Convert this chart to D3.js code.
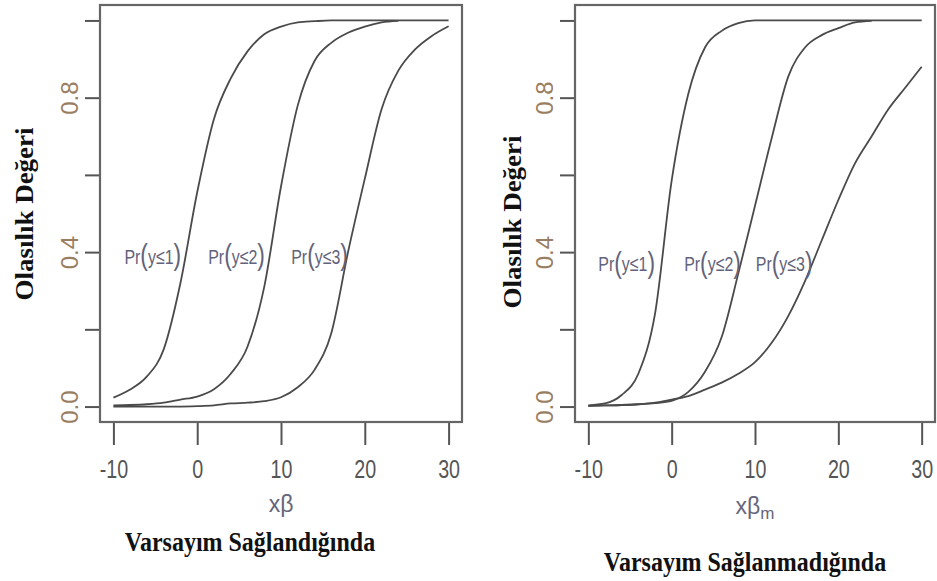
<!DOCTYPE html>
<html>
<head>
<meta charset="utf-8">
<script src="https://cdn.jsdelivr.net/npm/d3@7/dist/d3.min.js"></script>
<style>
    body { margin: 0; background: #fff; }
</style>
</head>
<body>
<div id="chart"></div>
<script>
// x values the curves were read at
var xGrid = [-10, -8, -6, -4, -2, 0, 2, 4, 6, 8, 10, 12, 14, 16, 18, 20, 22, 24, 26, 28, 30];

// left panel: assumption met
var metPr1 = [0.023, 0.044, 0.078, 0.148, 0.32, 0.555, 0.745, 0.85, 0.92, 0.964, 0.984, 0.995, 0.998, 1, 1, 1, 1, 1, 1, 1, 1];
var metPr2 = [0.003, 0.004, 0.006, 0.010, 0.018, 0.026, 0.045, 0.085, 0.155, 0.31, 0.57, 0.78, 0.895, 0.942, 0.968, 0.984, 0.995, 0.999];
var metPr3 = [0, 0, 0, 0, 0, 0.001, 0.003, 0.008, 0.010, 0.014, 0.024, 0.05, 0.095, 0.19, 0.40, 0.59, 0.77, 0.87, 0.925, 0.96, 0.985];

// right panel: assumption not met
var notPr1 = [0.003, 0.008, 0.03, 0.085, 0.24, 0.585, 0.81, 0.93, 0.973, 0.993, 1, 1, 1, 1, 1, 1, 1, 1, 1, 1, 1];
var notPr2 = [0.002, 0.003, 0.004, 0.006, 0.009, 0.015, 0.038, 0.09, 0.18, 0.345, 0.52, 0.695, 0.855, 0.93, 0.962, 0.98, 0.995, 0.999];
var notPr3 = [0.002, 0.003, 0.004, 0.006, 0.010, 0.018, 0.027, 0.044, 0.062, 0.085, 0.115, 0.165, 0.235, 0.325, 0.43, 0.535, 0.63, 0.70, 0.77, 0.825, 0.88];

var xTicks = [-10, 0, 10, 20, 30];
var yTicks = [0, 0.2, 0.4, 0.6, 0.8, 1.0];
var yLabelled = [0, 0.4, 0.8];
var curveNames = ["1", "2", "3"];
var yTitle = "Olasılık Değeri";

var w = 937;
var h = 581;

var svg = d3.select("#chart")
    .append("svg")
    .attr("width", w)
    .attr("height", h);

function toPoints(vals) {
    return vals.map(function (v, i) { return [xGrid[i], v]; });
}

var panels = [
    { x0: 100, x1: 462, y0: 5, y1: 422, series: [metPr1, metPr2, metPr3],
      labelX: [-5.3, 4.7, 14.6], labelY: 0.39, sub: "", title: "Varsayım Sağlandığında",
      titleX: 250, titleY: 542, yTitleX: 24, yTitleY: 214, xLabY: 505 },
    { x0: 575, x1: 935, y0: 5, y1: 422, series: [notPr1, notPr2, notPr3],
      labelX: [-5.4, 4.9, 13.5], labelY: 0.37, sub: "m", title: "Varsayım Sağlanmadığında",
      titleX: 745, titleY: 562, yTitleX: 512, yTitleY: 222, xLabY: 507 }
];

panels.forEach(function (p) {
    var x = d3.scaleLinear().domain([-11.6, 31.6]).range([p.x0, p.x1]);
    var y = d3.scaleLinear().domain([-0.04, 1.04]).range([p.y1, p.y0]);
    var g = svg.append("g");

    // x axis
    var xAxis = g.append("g")
        .attr("transform", "translate(0," + p.y1 + ")")
        .call(d3.axisBottom(x).tickValues(xTicks).tickSize(23)
            .tickFormat(function (d) { return String(d); }));
    xAxis.select(".domain").remove();
    xAxis.selectAll("line").attr("stroke", "#555").attr("stroke-width", 2);
    xAxis.selectAll("text")
        .attr("y", 43)
        .attr("dy", "0.36em")
        .attr("transform", "scale(0.82,1.08)")
        .attr("fill", "#555")
        .style("font-family", "'Liberation Sans', Arial, sans-serif")
        .style("font-size", "24px");

    // y axis
    var yAxis = g.append("g")
        .attr("transform", "translate(" + p.x0 + ",0)")
        .call(d3.axisLeft(y).tickValues(yTicks).tickSize(15)
            .tickFormat(function (d) {
                return yLabelled.indexOf(d) >= 0 ? d.toFixed(1) : "";
            }));
    yAxis.select(".domain").remove();
    yAxis.selectAll("line").attr("stroke", "#555").attr("stroke-width", 2);
    yAxis.selectAll("text")
        .attr("transform", "rotate(-90)")
        .attr("x", 0)
        .attr("y", -30)
        .attr("dy", "0.35em")
        .attr("text-anchor", "middle")
        .attr("fill", "#9a7e62")
        .style("font-family", "'Liberation Sans', Arial, sans-serif")
        .style("font-size", "24px");

    // curves
    var line = d3.line()
        .x(function (d) { return x(d[0]); })
        .y(function (d) { return y(d[1]); })
        .curve(d3.curveMonotoneX);

    g.selectAll("path.curve")
        .data(p.series)
        .enter()
        .append("path")
        .attr("class", "curve")
        .attr("d", function (d) { return line(toPoints(d)); })
        .attr("fill", "none")
        .attr("stroke", "#4a4a4a")
        .attr("stroke-width", 1.8);

    // box
    g.append("rect")
        .attr("x", p.x0)
        .attr("y", p.y0)
        .attr("width", p.x1 - p.x0)
        .attr("height", p.y1 - p.y0)
        .attr("fill", "none")
        .attr("stroke", "#666")
        .attr("stroke-width", 2.2);

    // Pr(y<=k) labels
    curveNames.forEach(function (k, i) {
        var t = g.append("text")
            .attr("transform", "translate(" + x(p.labelX[i]) + "," + y(p.labelY) + ") scale(0.76,1)")
            .attr("text-anchor", "middle")
            .attr("dy", "0.36em")
            .attr("fill", "#62627a")
            .style("font-family", "'Liberation Sans', Arial, sans-serif")
            .style("font-size", "21px");
        t.append("tspan").text("Pr");
        t.append("tspan").style("font-size", "30px").attr("dy", "0.05em").text("(");
        t.append("tspan").attr("dy", "-0.07em").text("y≤" + k);
        t.append("tspan").style("font-size", "30px").attr("dy", "0.05em").text(")");
    });

    // x label
    var xl = g.append("text")
        .attr("x", x(10))
        .attr("y", p.xLabY)
        .attr("dy", "0.3em")
        .attr("text-anchor", "middle")
        .attr("fill", "#66667a")
        .style("font-family", "'Liberation Sans', Arial, sans-serif")
        .style("font-size", "23px");
    xl.append("tspan").text("xβ");
    if (p.sub) {
        xl.append("tspan").attr("dy", "0.3em").style("font-size", "17px").text(p.sub);
    }

    // y title
    g.append("text")
        .attr("transform", "translate(" + p.yTitleX + "," + p.yTitleY + ") rotate(-90) scale(1.08,1)")
        .attr("text-anchor", "middle")
        .attr("dy", "0.35em")
        .attr("fill", "#111")
        .style("font-family", "'Liberation Serif', 'Times New Roman', serif")
        .style("font-weight", "bold")
        .style("font-size", "25px")
        .text(yTitle);

    // panel title
    g.append("text")
        .attr("transform", "translate(" + p.titleX + "," + p.titleY + ") scale(1,1.1)")
        .attr("text-anchor", "middle")
        .attr("dy", "0.35em")
        .attr("fill", "#111")
        .style("font-family", "'Liberation Serif', 'Times New Roman', serif")
        .style("font-weight", "bold")
        .style("font-size", "24px")
        .text(p.title);
});
</script>
</body>
</html>
